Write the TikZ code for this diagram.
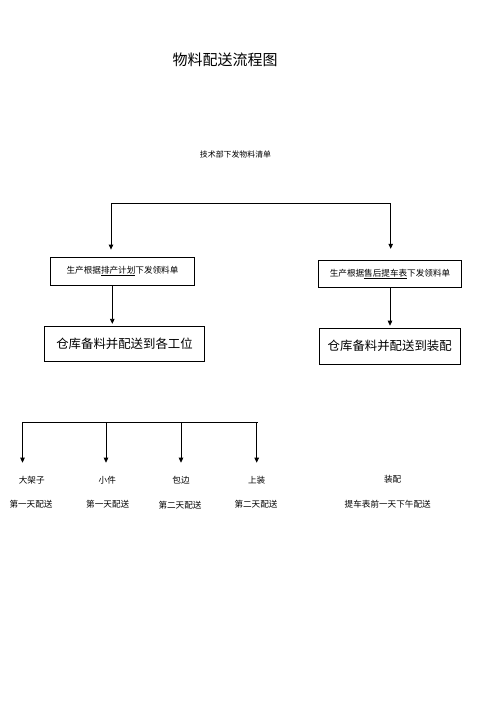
\documentclass[tikz,border=0pt]{standalone}
\usepackage{fontspec}
\newfontfamily\cjk{Noto Sans CJK SC}
\usetikzlibrary{arrows.meta}
\tikzset{
  lbl/.style={font=\cjk\fontsize{8.6}{10}\selectfont, inner sep=0pt},
  box/.style={draw, line width=0.9pt, inner sep=0pt, font=\cjk\fontsize{8.6}{10}\selectfont},
  bigbox/.style={box, font=\cjk\fontsize{12.4}{14}\selectfont},
  arr/.style={-{Triangle[length=5pt,width=4.5pt]}, line width=0.8pt},
}
\begin{document}
\begin{tikzpicture}[x=1pt,y=-1pt]
  \useasboundingbox (0,0) rectangle (500,707);
  % title and source
  \node[lbl, font=\cjk\fontsize{15}{17}\selectfont] (title) at (225,60) {物料配送流程图};
  \node[lbl, font=\cjk\fontsize{7.9}{10}\selectfont] (tech) at (235.5,154) {技术部下发物料清单};
  % boxes
  \node[box, minimum width=143.6pt, minimum height=27.7pt] (lp) at (122.5,271.2) {生产根据\underline{排产计划}下发领料单};
  \node[box, minimum width=143.4pt, minimum height=26.3pt] (rp) at (390,273.8) {生产根据\underline{售后提车表}下发领料单};
  \node[bigbox, minimum width=159.6pt, minimum height=35pt] (lw) at (124.5,343.5) {仓库备料并配送到各工位};
  \node[bigbox, minimum width=141.3pt, minimum height=35.3pt] (rw) at (389.7,346.3) {仓库备料并配送到装配};
  % split from the list
  \coordinate (tl) at (111,203);
  \coordinate (tr) at (390.7,203);
  \draw[line width=0.8pt] (tl) -- (tr);
  \draw[arr, shorten >=7.3pt] (tl) -- (tl |- lp.north);
  \draw[arr, shorten >=11.4pt] (tr) -- (tr |- rp.north);
  \draw[arr, shorten >=1.7pt] ([xshift=-10.2pt]lp.south) -- ([xshift=-10.2pt]lp.south |- lw.north);
  \draw[arr, shorten >=2.5pt] (rp.south) -- (rp.south |- rw.north);
  % parts and delivery days
  \node[lbl] (p1) at (31.7,480) {大架子};
  \node[lbl] (p2) at (107.3,480) {小件};
  \node[lbl] (p3) at (181,480) {包边};
  \node[lbl] (p4) at (256.7,480) {上装};
  \node[lbl] (p5) at (392.7,479) {装配};
  \node[lbl] (d1) at (31,504.5) {第一天配送};
  \node[lbl] (d2) at (107.7,504.5) {第一天配送};
  \node[lbl] (d3) at (180,505) {第二天配送};
  \node[lbl] (d4) at (256,504.5) {第二天配送};
  \node[lbl] (d5) at (387.7,504.5) {提车表前一天下午配送};
  \coordinate (bl) at (22.5,422.3);
  \coordinate (br) at (257.7,422.3);
  \draw[line width=0.8pt] (bl) -- (br);
  \foreach \i/\x in {1/22.5,2/106,3/181,4/256.7}{
    \coordinate (s\i) at (\x,422.3);
    \coordinate (t\i) at (\x,462.7);
    \draw[arr] (s\i) -- (t\i);
  }
\end{tikzpicture}
\end{document}
